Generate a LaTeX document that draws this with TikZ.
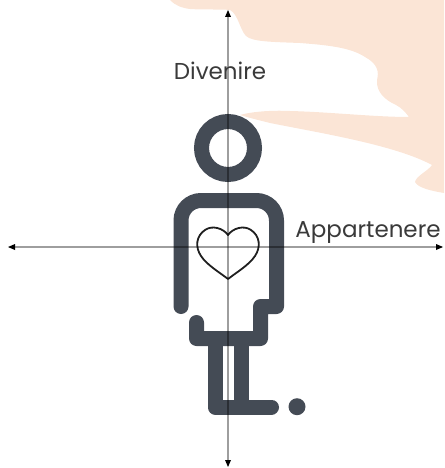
\documentclass[tikz,border=0pt]{standalone}
\usepackage{fontspec}
\setmainfont{Poppins}
\usetikzlibrary{arrows.meta}
\definecolor{peach}{HTML}{FBE5D6}
\definecolor{slate}{HTML}{444B55}
\definecolor{inkgray}{HTML}{3A3A3A}
\definecolor{heartline}{HTML}{1F1F1F}
\tikzset{
  limb/.style={draw=slate,line width=15pt,line cap=round,line join=round},
  axisline/.style={draw=black,draw opacity=.38,line width=1.2pt},
  axistip/.style={fill=black,draw=none},
  axislabel/.style={text=inkgray,font=\fontsize{23}{26}\selectfont,inner sep=0pt,anchor=base}
}
\begin{document}
\begin{tikzpicture}[x=1pt,y=-1pt]
\useasboundingbox (0,0) rectangle (444,468);

\fill[peach] (170,0) .. controls (176,6) and (182,8) .. (190,9)
  .. controls (205,10) and (220,9) .. (230,10)
  .. controls (238,14) and (240,30) .. (246,36)
  .. controls (252,42) and (275,42) .. (300,43)
  .. controls (325,45) and (350,47) .. (365,57)
  .. controls (378,64) and (379,72) .. (377,80)
  .. controls (376,92) and (385,100) .. (396,105)
  .. controls (402,108) and (406,113) .. (409,117)
  .. controls (375,117) and (330,112) .. (290,111)
  .. controls (270,110) and (250,112) .. (240,115)
  .. controls (250,118) and (258,120) .. (270,123)
  .. controls (320,133) and (395,145) .. (432,165)
  .. controls (428,171) and (416,176) .. (415,182)
  .. controls (418,188) and (432,191) .. (444,193)
  -- (444,0) -- cycle;

\draw[slate,line width=15pt] (228,148) circle[radius=26.5];
\draw[limb] (181,306.5)--(181,220.5) arc[start angle=180,end angle=270,radius=20]
  --(256.5,200.5) arc[start angle=270,end angle=360,radius=20]
  --(276.5,306.5)--(260.5,306.5)--(260.5,338.5)--(196.5,338.5)--(196.5,322.5);
\draw[limb] (215,338.5)--(215,407)--(271.5,407);
\draw[limb] (241.5,338.5)--(241.5,407);
\fill[slate] (297,406.7) circle[radius=8.5];

\draw[heartline,line width=1.8pt,line join=round] (228,235)
  .. controls (223,228) and (212,225) .. (205,230)
  .. controls (196,236) and (195,247) .. (201,256)
  .. controls (207,265) and (219,272) .. (228,279)
  .. controls (237,272) and (249,265) .. (255,256)
  .. controls (261,247) and (260,236) .. (251,230)
  .. controls (244,225) and (233,228) .. (228,235) -- cycle;

\coordinate (north) at (228,17);
\coordinate (south) at (228,460);
\coordinate (west) at (15,247);
\coordinate (east) at (436,247);
\draw[axisline] (north)--(south);
\draw[axisline] (west)--(east);
\fill[axistip] (228,10)--(231,17)--(225,17)--cycle;
\fill[axistip] (228,467)--(231,460)--(225,460)--cycle;
\fill[axistip] (8,247)--(15,244)--(15,250)--cycle;
\fill[axistip] (443,247)--(436,244)--(436,250)--cycle;

\node[axislabel] (divenire) at (220,80) {Divenire};
\node[axislabel] (appartenere) at (368,237) {Appartenere};
\end{tikzpicture}
\end{document}
